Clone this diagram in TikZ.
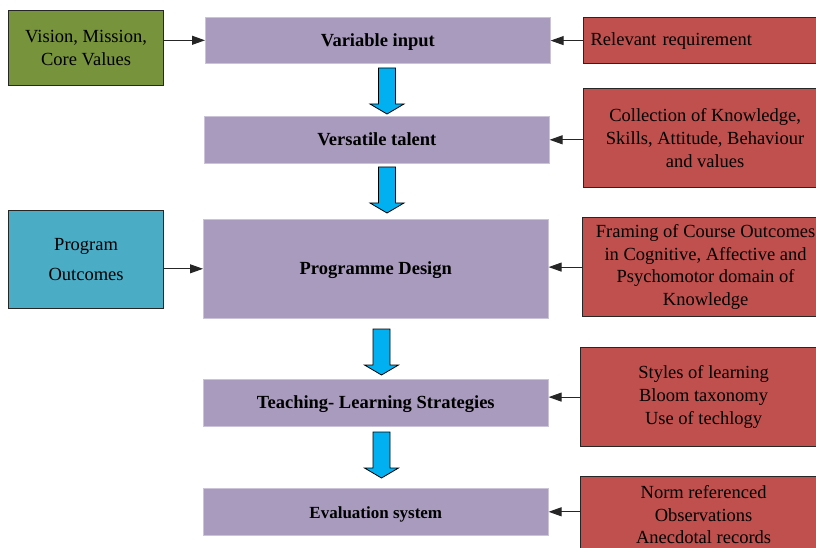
\documentclass[tikz,border=0pt]{standalone}
\usepackage{fontspec}
\setmainfont{Liberation Serif}
\usetikzlibrary{arrows.meta}
\definecolor{purc}{HTML}{A99BBD}
\definecolor{redc}{HTML}{C0504D}
\definecolor{greenc}{HTML}{77933C}
\definecolor{tealc}{HTML}{4BACC6}
\definecolor{bluec}{HTML}{00B0F0}
\begin{document}
\begin{tikzpicture}[x=1pt,y=-1pt,
  base/.style={inner sep=0pt, align=center, anchor=north west, font=\fontsize{18.5}{22.7}\selectfont},
  purbox/.style={base, fill=purc, draw=purc!60!white, line width=0.6pt, text height=16pt, text depth=4pt, font=\fontsize{18.5}{22.7}\selectfont\bfseries},
  redbox/.style={base, fill=redc, draw=black!85, line width=1.2pt},
  greenbox/.style={base, fill=greenc, draw=black!85, line width=1.2pt},
  tealbox/.style={base, fill=tealc, draw=black!85, line width=1.2pt},
  conn/.style={-{Triangle[length=13pt,width=9pt]}, line width=1pt, draw=black!85},
  downarr/.pic={\draw[fill=bluec, draw=black, line width=0.8pt]
     (-8.5,0) -- (8.5,0) -- (8.5,36) -- (17,36) -- (0,46) -- (-17,36) -- (-8.5,36) -- cycle;}
]
\useasboundingbox (0,0) rectangle (816,548);
\clip (0,0) rectangle (816,548);

% left boxes
\node[greenbox, minimum width=155pt, minimum height=75pt] (vis) at (8,10) {Vision, Mission,\\Core Values};
\node[tealbox, minimum width=155pt, minimum height=98pt, font=\fontsize{18.5}{30}\selectfont] (po) at (8,210) {Program\\Outcomes};

% central boxes
\node[purbox, minimum width=345pt, minimum height=46pt] (vin) at (205,17) {Variable input};
\node[purbox, minimum width=345pt, minimum height=47pt] (vt) at (204,116) {Versatile talent};
\node[purbox, minimum width=345pt, minimum height=99pt] (pd) at (203,219) {Programme Design};
\node[purbox, minimum width=345pt, minimum height=47pt] (tl) at (203,379) {Teaching- Learning Strategies};
\node[purbox, minimum width=345pt, minimum height=47pt, text height=17pt, font=\fontsize{17}{20}\selectfont\bfseries] (ev) at (203,488) {Evaluation system};

% right boxes
\node[redbox, minimum width=243pt, minimum height=46pt, text width=229pt, inner xsep=7pt, align=left] (rel) at (583,17) {Relevant requirement};
\node[redbox, minimum width=243pt, minimum height=99pt] (coll) at (583,88) {Collection of Knowledge,\\Skills, Attitude, Behaviour\\and values};
\node[redbox, minimum width=246pt, minimum height=99pt] (fram) at (582,217) {Framing of Course Outcomes\\in Cognitive, Affective and\\Psychomotor domain of\\Knowledge};
\node[redbox, minimum width=246pt, minimum height=99pt] (sty) at (580,347) {Styles of learning\\Bloom taxonomy\\Use of techlogy};
\node[redbox, minimum width=246pt, minimum height=76pt] (norm) at (580,476) {Norm referenced\\Observations\\Anecdotal records};

% connectors
\draw[conn] (vis.east |- vin.west) -- (vin.west);
\draw[conn] (po.east |- pd.west) -- (pd.west);
\draw[conn] (rel.west) -- (rel.west -| vin.east);
\draw[conn] (coll.west |- vt.east) -- (vt.east);
\draw[conn] (fram.west) -- (fram.west -| pd.east);
\draw[conn] (sty.west) -- (sty.west -| tl.east);
\draw[conn] (norm.west |- ev.east) -- (ev.east);

% block arrows
\pic at (387,68) {downarr};
\pic at (387,167) {downarr};
\pic at (381.5,329) {downarr};
\pic at (381.5,432) {downarr};
\end{tikzpicture}
\end{document}
